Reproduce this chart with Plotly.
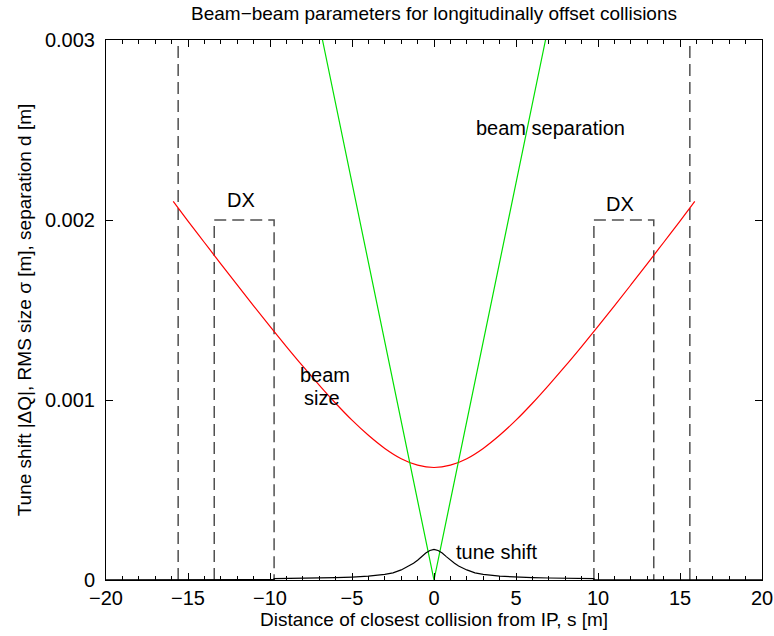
import plotly.graph_objects as go

# Beam size (RMS sigma) versus distance s from the IP
size_s = [-15.9, -15, -14, -13, -12, -11, -10, -9, -8, -7, -6, -5, -4, -3, -2, -1, 0,
          1, 2, 3, 4, 5, 6, 7, 8, 9, 10, 11, 12, 13, 14, 15, 15.9]
size_m = [0.002103, 0.001994, 0.001875, 0.001756, 0.001639, 0.001523, 0.001409,
          0.001297, 0.001188, 0.001083, 0.000982, 0.000888, 0.000804, 0.000731,
          0.000674, 0.000638, 0.000625,
          0.000638, 0.000674, 0.000731, 0.000804, 0.000888, 0.000982, 0.001083,
          0.001188, 0.001297, 0.001409, 0.001523, 0.001639, 0.001756, 0.001875,
          0.001994, 0.002103]

# Beam separation d
sep_s = [-6.8, 0, 6.8]
sep_m = [0.003, 0.0, 0.003]

# Tune shift |dQ| (step where the beams enter the DX region)
tune_s = [-20, -18, -16, -14, -12, -10, -9.75, -9.75, -9, -8, -7, -6, -5, -4, -3, -2.5,
          -2, -1.5, -1.25, -1, -0.75, -0.5, -0.25, 0,
          0.25, 0.5, 0.75, 1, 1.25, 1.5, 2, 2.5, 3, 4, 5, 6, 7, 8, 9, 9.75, 9.75,
          10, 12, 14, 16, 18, 20]
tune_q = [1.2e-6, 1.4e-6, 1.7e-6, 2.0e-6, 2.4e-6, 2.8e-6, 2.9e-6, 8.0e-6, 8.5e-6,
          9.5e-6, 1.1e-5, 1.3e-5, 1.6e-5, 2.1e-5, 3.1e-5, 4.0e-5,
          5.6e-5, 7.8e-5, 9.3e-5, 1.1e-4, 1.3e-4, 1.5e-4, 1.64e-4, 1.70e-4,
          1.64e-4, 1.5e-4, 1.3e-4, 1.1e-4, 9.3e-5, 7.8e-5, 5.6e-5, 4.0e-5, 3.1e-5,
          2.1e-5, 1.6e-5, 1.3e-5, 1.1e-5, 9.5e-6, 8.5e-6, 8.0e-6, 2.9e-6,
          2.8e-6, 2.4e-6, 2.0e-6, 1.7e-6, 1.4e-6, 1.2e-6]

# DX magnet boxes and outer markers
dx_left = [-13.4, -9.75]
dx_right = [9.75, 13.4]
dx_height = 0.002
outer_s = [-15.6, 15.6]
y_top = 0.003

y_ticks = [0, 0.001, 0.002, 0.003]
y_tick_text = ["0", "0.001", "0.002", "0.003"]

FONT = "Liberation Sans, Arial, sans-serif"
DASH = "12px,6px"
GREY = "#505050"

fig = go.Figure()

# dashed DX boxes
for lo, hi in (dx_left, dx_right):
    fig.add_trace(go.Scatter(
        x=[lo, lo, hi, hi], y=[0, dx_height, dx_height, 0], mode="lines",
        line=dict(color=GREY, width=1.5, dash=DASH), hoverinfo="skip"))
# dashed outer markers
for s in outer_s:
    fig.add_trace(go.Scatter(
        x=[s, s], y=[0, y_top], mode="lines",
        line=dict(color=GREY, width=1.5, dash=DASH), hoverinfo="skip"))

fig.add_trace(go.Scatter(x=size_s, y=size_m, mode="lines", line_shape="spline",
                         line=dict(color="#ff0000", width=1.2)))
fig.add_trace(go.Scatter(x=sep_s, y=sep_m, mode="lines",
                         line=dict(color="#00e000", width=1.2)))
fig.add_trace(go.Scatter(x=tune_s, y=tune_q, mode="lines",
                         line=dict(color="#000000", width=1.2)))

labels = [
    ("beam separation", 7.13, 0.00251),
    ("DX", -11.75, 0.00211),
    ("DX", 11.35, 0.00209),
    ("beam", -6.65, 0.00114),
    ("size", -6.85, 0.00101),
    ("tune shift", 3.85, 0.000156),
]
for txt, x, y in labels:
    fig.add_annotation(x=x, y=y, text=txt, showarrow=False,
                       font=dict(family=FONT, size=20, color="black"))

axis_common = dict(
    showgrid=False, zeroline=False, showline=True, linecolor="black", linewidth=1,
    mirror="allticks", ticks="inside", tickcolor="black", tickwidth=1,
    tickfont=dict(family=FONT, size=20, color="black"), automargin=False,
)

fig.update_xaxes(range=[-20, 20], tickmode="linear", tick0=-20, dtick=5, ticklen=7,
                 minor=dict(ticks="inside", dtick=1, ticklen=4, tickcolor="black",
                            showgrid=False),
                 title=dict(text="Distance of closest collision from IP, s [m]",
                            font=dict(family=FONT, size=19, color="black"), standoff=4),
                 **axis_common)
fig.update_yaxes(range=[0, 0.003], tickvals=y_ticks, ticktext=y_tick_text, ticklen=7,
                 ticklabelstandoff=6,
                 title=dict(text="Tune shift |ΔQ|, RMS size σ [m], separation d [m]",
                            font=dict(family=FONT, size=19, color="black"), standoff=8),
                 **axis_common)

fig.update_layout(
    width=774, height=636,
    margin=dict(l=106, r=12, t=40, b=56),
    paper_bgcolor="white", plot_bgcolor="white",
    showlegend=False,
    title=dict(text="Beam\u2212beam parameters for longitudinally offset collisions",
               x=434 / 774, xanchor="center", y=1 - 13 / 636, yanchor="middle",
               font=dict(family=FONT, size=19, color="black")),
)

fig.write_html("out.html")
